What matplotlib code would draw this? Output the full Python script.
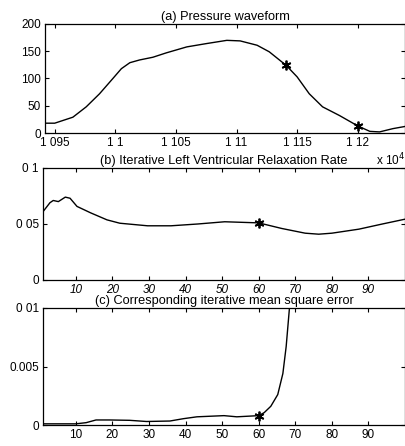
import matplotlib
matplotlib.use("Agg")
import matplotlib.pyplot as plt

plt.rcParams['font.family'] = ['Liberation Sans', 'DejaVu Sans']

# (a) Pressure waveform
pa_x = [10942, 10950, 10965, 10976, 10987, 10998, 11005, 11012, 11020, 11031,
        11042, 11059, 11075, 11092, 11103, 11117, 11127, 11141, 11150, 11160,
        11171, 11185, 11200, 11210, 11218, 11229, 11239]
pa_y = [18, 18, 29, 48, 72, 100, 118, 129, 134, 139,
        147, 158, 164, 170, 169, 161, 149, 124, 103, 72,
        48, 32, 13, 3, 2, 8, 12]
pa_star_x = [11141, 11200]
pa_star_y = [124, 13]
pa_xticks = [10950, 11000, 11050, 11100, 11150, 11200]
pa_xticklabels = ['1 095', '1 1', '1 105', '1 11', '1 115', '1 12']
pa_yticks = [0, 50, 100, 150, 200]
pa_yticklabels = ['0', '50', '100', '150', '200']

# (b) Iterative Left Ventricular Relaxation Rate
pb_x = [1, 2.9, 3.8, 5.2, 7.1, 8.4, 10.3, 14, 18.5, 22, 29.6, 36, 43.3, 50.7,
        60, 66.3, 72.7, 76.4, 80, 87.4, 93.8, 100]
pb_y = [0.061, 0.069, 0.071, 0.070, 0.074, 0.073, 0.0657, 0.060, 0.0537, 0.0507,
        0.0484, 0.0484, 0.050, 0.052, 0.051, 0.046, 0.0418, 0.0409, 0.0418,
        0.0454, 0.050, 0.0543]
pb_star_x = [60]
pb_star_y = [0.051]
pb_yticks = [0, 0.05, 0.1]
pb_yticklabels = ['0', '0 05', '0 1']

# (c) Corresponding iterative mean square error
pc_x = [1, 10, 12.8, 15.5, 19.2, 24.7, 29.3, 35.7, 39.4, 43.1, 50.5, 54, 60,
        61.5, 63.3, 65.2, 66.6, 67.5, 68.4, 69.5]
pc_y = [0.0001, 0.0001, 0.0002, 0.00043, 0.00043, 0.0004, 0.0003, 0.00034,
        0.00054, 0.0007, 0.0008, 0.0007, 0.0008, 0.00106, 0.0016, 0.0026,
        0.0044, 0.0067, 0.010, 0.015]
pc_star_x = [60]
pc_star_y = [0.0008]
pc_yticks = [0, 0.005, 0.01]
pc_yticklabels = ['0', '0.005', '0 01']

it_xticks = [10, 20, 30, 40, 50, 60, 70, 80, 90]
it_xticklabels = ['10', '20', '30', '40', '50', '60', '70', '80', '90']

W, H = 406, 446
fig = plt.figure(figsize=(W / 100, H / 100), dpi=100)

def box(l, r, t, b):
    return [l / W, 1 - b / H, (r - l) / W, (b - t) / H]

FS = 8.5
TFS = 9.2
STAR = dict(marker=(6, 2, 0), color='black', ms=7, mew=1.3, ls='none')

def style(ax):
    ax.tick_params(direction='in', length=3, width=0.8, top=True, right=True,
                   labelsize=FS, pad=3, colors='black')
    for s in ax.spines.values():
        s.set_linewidth(0.9)

ax1 = fig.add_axes(box(45, 405, 24, 133))
ax1.plot(pa_x, pa_y, color='black', lw=1.0)
ax1.plot(pa_star_x, pa_star_y, **STAR)
ax1.set_xlim(10942, 11239)
ax1.set_ylim(0, 200)
ax1.set_xticks(pa_xticks)
ax1.set_xticklabels(pa_xticklabels)
ax1.set_yticks(pa_yticks)
ax1.set_yticklabels(pa_yticklabels)
ax1.set_title('(a) Pressure waveform', fontsize=TFS, pad=3)
style(ax1)
fig.text(405 / W, 1 - 160 / H, 'x 10$^{4}$', ha='right', va='center', fontsize=FS)

ax2 = fig.add_axes(box(43, 405, 168, 280))
ax2.plot(pb_x, pb_y, color='black', lw=1.0)
ax2.plot(pb_star_x, pb_star_y, **STAR)
ax2.set_xlim(1, 100)
ax2.set_ylim(0, 0.1)
ax2.set_xticks(it_xticks)
ax2.set_xticklabels(it_xticklabels, style='italic')
ax2.set_yticks(pb_yticks)
ax2.set_yticklabels(pb_yticklabels)
ax2.set_title('(b) Iterative Left Ventricular Relaxation Rate', fontsize=TFS, pad=3)
style(ax2)

ax3 = fig.add_axes(box(43, 405, 308, 425))
ax3.plot(pc_x, pc_y, color='black', lw=1.0)
ax3.plot(pc_star_x, pc_star_y, **STAR)
ax3.set_xlim(1, 100)
ax3.set_ylim(0, 0.01)
ax3.set_xticks(it_xticks)
ax3.set_xticklabels(it_xticklabels)
ax3.set_yticks(pc_yticks)
ax3.set_yticklabels(pc_yticklabels)
ax3.set_title('(c) Corresponding iterative mean square error', fontsize=TFS, pad=3)
style(ax3)

fig.savefig('out.png', dpi=100)
